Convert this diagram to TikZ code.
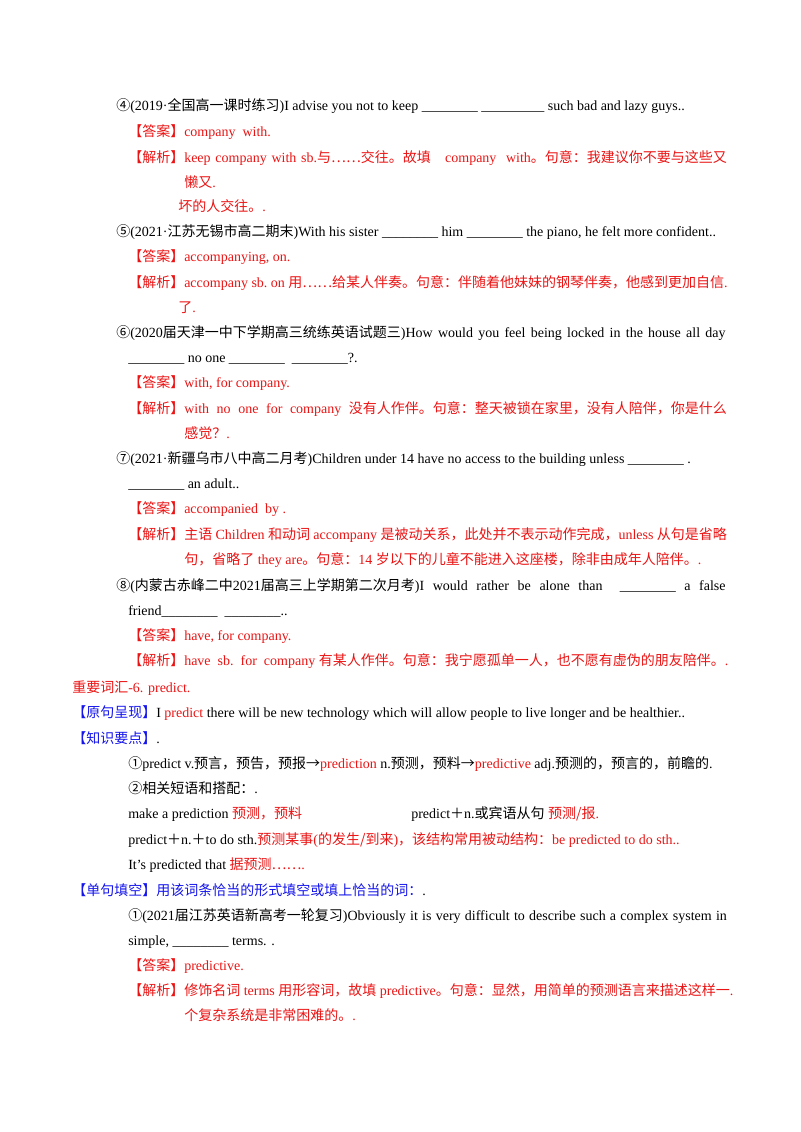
\documentclass[tikz,border=0pt]{standalone}
\usepackage{fontspec}
\setmainfont{Liberation Serif}
\newfontfamily\Zf{Noto Sans CJK SC}
\newcommand\Z[1]{{\Zf #1}}
\definecolor{ansred}{RGB}{235,20,20}
\definecolor{lblue}{RGB}{20,20,235}
\newcommand\J[2]{\makebox[#1pt][s]{#2}}
\newcommand\B{\_\_\_\_\_\_\_\_}
\begin{document}
\begin{tikzpicture}[x=0.75pt,y=-0.75pt,
  ln/.style={anchor=base west,inner sep=0pt,font=\fontsize{10.5}{12}\selectfont},
  rd/.style={ln,text=ansred}]
\useasboundingbox[fill=white] (0,0) rectangle (800,1132);
\node[ln] (l1) at (116,110) {\Z{④}(2019·\Z{全国高一课时练习})I advise you not to keep \B{} \B\_ such bad and lazy guys..};
\node[rd] (l2) at (128,136) {\Z{【答案】}company\ \ with.};
\node[rd] (l3) at (128,162) {\J{449}{\Z{【解析】}keep company with sb.\Z{与……交往。故填}\ \ \ company\ \ with\Z{。句意：我建议你不要与这些又}}};
\node[rd] (l4) at (184,187) {\Z{懒又}.};
\node[rd] (l5) at (178,211) {\Z{坏的人交往。}.};
\node[ln] (l6) at (116,236) {\Z{⑤}(2021·\Z{江苏无锡市高二期末})With his sister \B{} him \B{} the piano, he felt more confident..};
\node[rd] (l7) at (128,261) {\Z{【答案】}accompanying,\ on.};
\node[rd] (l8) at (128,287) {\Z{【解析】}accompany sb.\ on \Z{用……给某人伴奏。句意：伴随着他妹妹的钢琴伴奏，他感到更加自信}.};
\node[rd] (l9) at (178,312) {\Z{了}.};
\node[ln] (l10) at (116,337) {\J{457}{\Z{⑥}(2020\Z{届天津一中下学期高三统练英语试题三})How would you feel being locked in the house all day}};
\node[ln] (l11) at (128,362) {\B{} no one \B{}\ \ \B?.};
\node[rd] (l12) at (128,387) {\Z{【答案】}with,\ for company.};
\node[rd] (l13) at (128,413) {\J{449}{\Z{【解析】}with no one for company \Z{没有人作伴。句意：整天被锁在家里，没有人陪伴，你是什么}}};
\node[rd] (l14) at (184,438) {\Z{感觉？}.};
\node[ln] (l15) at (116,463) {\Z{⑦}(2021·\Z{新疆乌市八中高二月考})Children under 14 have no access to the building unless \B{} .};
\node[ln] (l16) at (128,488) {\B{} an adult..};
\node[rd] (l17) at (128,513) {\Z{【答案】}accompanied\ \ by .};
\node[rd] (l18) at (128,539) {\J{449}{\Z{【解析】主语} Children \Z{和动词} accompany \Z{是被动关系，此处并不表示动作完成，}unless \Z{从句是省略}}};
\node[rd] (l19) at (184,564) {\Z{句，省略了} they are\Z{。句意：}14 \Z{岁以下的儿童不能进入这座楼，除非由成年人陪伴。}.};
\node[ln] (l20) at (116,590) {\J{457}{\Z{⑧}(\Z{内蒙古赤峰二中}2021\Z{届高三上学期第二次月考})I would rather be alone than \ \B{} a false}};
\node[ln] (l21) at (128,615) {friend\B{}\ \ \B..};
\node[rd] (l22) at (128,640) {\Z{【答案】}have,\ for company.};
\node[rd] (l23) at (128,665) {\Z{【解析】}have\ \ sb.\ \ for\ \ company \Z{有某人作伴。句意：我宁愿孤单一人，也不愿有虚伪的朋友陪伴。}.};
\node[rd] (l24) at (72,692) {\Z{重要词汇}-6. predict.};
\node[ln] (l25) at (72,717) {\textcolor{lblue}{\Z{【原句呈现】}}I \textcolor{ansred}{predict} there will be new technology which will allow people to live longer and be healthier..};
\node[ln] (l26) at (72,743) {\textcolor{lblue}{\Z{【知识要点】}}.};
\node[ln] (l27) at (128,768) {\Z{①}predict v.\Z{预言，预告，预报→}\textcolor{ansred}{prediction} n.\Z{预测，预料→}\textcolor{ansred}{predictive} adj.\Z{预测的，预言的，前瞻的}.};
\node[ln] (l28) at (128,793) {\Z{②相关短语和搭配：}.};
\node[ln] (l29) at (128,818) {make a prediction \textcolor{ansred}{\Z{预测，预料}}};
\node[ln] (l29b) at (411,818) {predict\Z{＋}n.\Z{或宾语从句}\ \textcolor{ansred}{\Z{预测/报}.}};
\node[ln] (l30) at (128,844) {predict\Z{＋}n.\Z{＋}to do sth.\textcolor{ansred}{\Z{预测某事}(\Z{的发生/到来})\Z{，该结构常用被动结构：}be predicted to do sth..}};
\node[ln] (l31) at (128,869) {It’s predicted that \textcolor{ansred}{\Z{据预测……}.}};
\node[ln] (l32) at (72,895) {\textcolor{lblue}{\Z{【单句填空】用该词条恰当的形式填空或填上恰当的词：}}.};
\node[ln] (l33) at (128,920) {\J{449}{\Z{①}(2021\Z{届江苏英语新高考一轮复习})Obviously it is very difficult to describe such a complex system in}};
\node[ln] (l34) at (128,945) {simple, \B{} terms. .};
\node[rd] (l35) at (128,970) {\Z{【答案】}predictive.};
\node[rd] (l36) at (128,995) {\Z{【解析】修饰名词} terms \Z{用形容词，故填} predictive\Z{。句意：显然，用简单的预测语言来描述这样一}.};
\node[rd] (l37) at (184,1020) {\Z{个复杂系统是非常困难的。}.};
\end{tikzpicture}
\end{document}
